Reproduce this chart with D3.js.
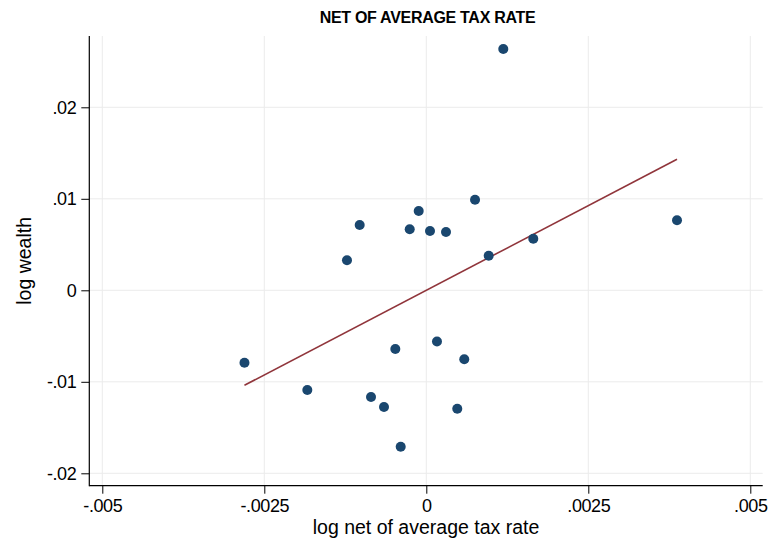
<!DOCTYPE html>
<html>
<head>
<meta charset="utf-8">
<script src="https://cdn.jsdelivr.net/npm/d3@7"></script>
<style>
  html, body { margin: 0; padding: 0; background: #ffffff; }
  svg { display: block; }
  text { font-family: "Liberation Sans", Arial, Helvetica, sans-serif; }
</style>
</head>
<body>
<svg id="chart" width="772" height="545"></svg>
<script>
// ---- data ----
const xVals = [0.001188, 0.000752, -0.000117, -0.001028, -0.000256, 0.000057, 0.000304, 0.003869,
               0.001651, 0.000963, -0.001224, 0.000165, -0.000478, 0.000586, -0.002806, -0.001836,
               -0.000853, -0.000653, 0.000478, -0.000395];
const yVals = [0.02638, 0.00990, 0.00867, 0.00714, 0.00667, 0.00648, 0.00637, 0.00765,
               0.00564, 0.00378, 0.00328, -0.00560, -0.00642, -0.00754, -0.00791, -0.01090,
               -0.01166, -0.01276, -0.01294, -0.01709];
const fitX = [-0.002806, 0.003869];
const fitY = [-0.01038, 0.01432];
const xTicks = [-0.005, -0.0025, 0, 0.0025, 0.005];
const xTickLabels = ["-.005", "-.0025", "0", ".0025", ".005"];
const yTicks = [-0.02, -0.01, 0, 0.01, 0.02];
const yTickLabels = ["-.02", "-.01", "0", ".01", ".02"];
const titleText = "NET OF AVERAGE TAX RATE";
const xTitle = "log net of average tax rate";
const yTitle = "log wealth";

// ---- layout ----
const plotL = 89.3, plotR = 762.7, plotT = 36, plotB = 485.7;
const x = d3.scaleLinear().domain([-0.005, 0.005]).range([102.3, 750.3]);
const y = d3.scaleLinear().domain([-0.02, 0.02]).range([473.3, 107.3]);

const svg = d3.select("#chart");
svg.append("rect").attr("width", 772).attr("height", 545).attr("fill", "#ffffff");

// gridlines
const grid = svg.append("g").attr("stroke", "#ebebeb").attr("stroke-width", 1);
grid.selectAll(".vg").data(xTicks).join("line")
  .attr("x1", d => x(d)).attr("x2", d => x(d))
  .attr("y1", plotT).attr("y2", plotB);
grid.selectAll(".hg").data(yTicks).join("line")
  .attr("x1", plotL).attr("x2", plotR)
  .attr("y1", d => y(d)).attr("y2", d => y(d));

// axes
const xAxis = d3.axisBottom(x).tickValues(xTicks)
  .tickFormat((d, i) => xTickLabels[i]).tickSize(8).tickPadding(6).tickSizeOuter(0);
const gx = svg.append("g").attr("transform", `translate(0,${plotB})`).call(xAxis);
gx.select(".domain").remove();
gx.selectAll("text").attr("font-size", 18).attr("letter-spacing", "-0.4px")
  .attr("font-family", "Liberation Sans, Arial, sans-serif").attr("fill", "#000");
gx.selectAll("line").attr("stroke", "#000");

const yAxis = d3.axisLeft(y).tickValues(yTicks)
  .tickFormat((d, i) => yTickLabels[i]).tickSize(8).tickPadding(5).tickSizeOuter(0);
const gy = svg.append("g").attr("transform", `translate(${plotL},0)`).call(yAxis);
gy.select(".domain").remove();
gy.selectAll("text").attr("font-size", 18).attr("letter-spacing", "-0.4px")
  .attr("font-family", "Liberation Sans, Arial, sans-serif").attr("fill", "#000");
gy.selectAll("line").attr("stroke", "#000");

// axis lines
svg.append("line").attr("x1", plotL).attr("x2", plotL).attr("y1", plotT).attr("y2", plotB + 0.5)
  .attr("stroke", "#000").attr("stroke-width", 1.2);
svg.append("line").attr("x1", plotL).attr("x2", plotR).attr("y1", plotB).attr("y2", plotB)
  .attr("stroke", "#000").attr("stroke-width", 1.2);

// fitted line
svg.append("line")
  .attr("x1", x(fitX[0])).attr("y1", y(fitY[0]))
  .attr("x2", x(fitX[1])).attr("y2", y(fitY[1]))
  .attr("stroke", "#90353b").attr("stroke-width", 1.6);

// points
const pts = xVals.map((d, i) => ({ x: d, y: yVals[i] }));
svg.append("g").selectAll("circle").data(pts).join("circle")
  .attr("cx", d => x(d.x)).attr("cy", d => y(d.y)).attr("r", 5)
  .attr("fill", "#1a476f");

// titles
svg.append("text").attr("x", 427.5).attr("y", 23.3).attr("text-anchor", "middle")
  .attr("font-size", 16).attr("letter-spacing", "-0.3px").attr("font-weight", "bold")
  .attr("fill", "#000").text(titleText);
svg.append("text").attr("x", (plotL + plotR) / 2).attr("y", 534).attr("text-anchor", "middle")
  .attr("font-size", 19.5).attr("fill", "#000").text(xTitle);
svg.append("text").attr("transform", `translate(31,${(plotT + plotB) / 2}) rotate(-90)`)
  .attr("text-anchor", "middle").attr("font-size", 19.5).attr("fill", "#000").text(yTitle);
</script>
</body>
</html>
